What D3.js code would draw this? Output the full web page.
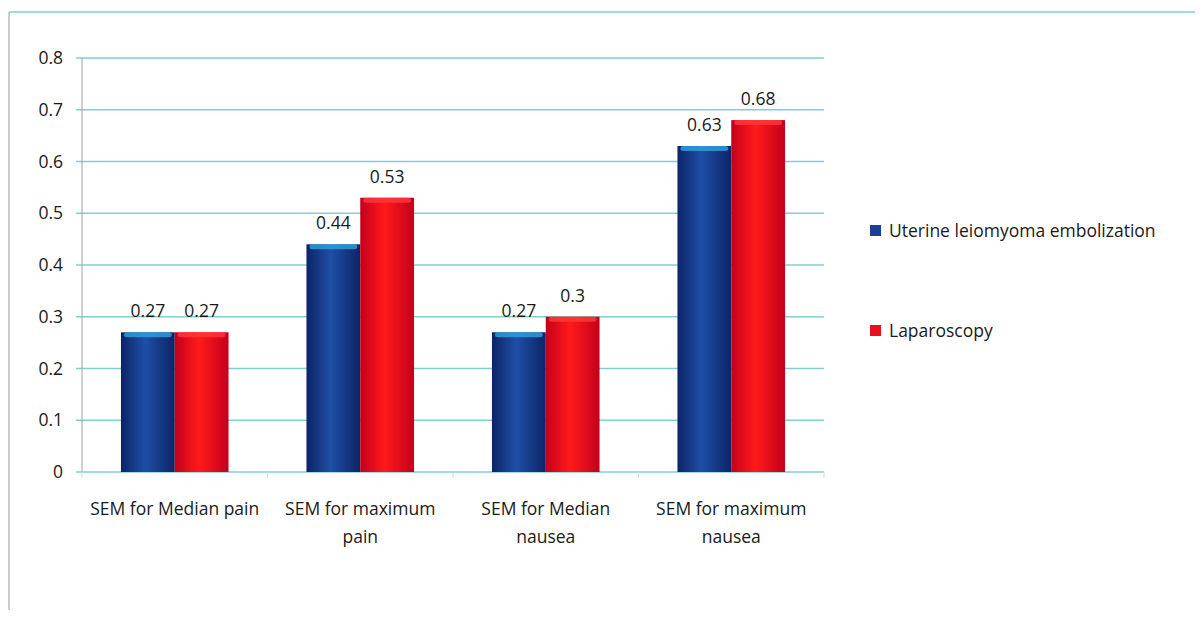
<!DOCTYPE html>
<html><head><meta charset="utf-8">
<script src="https://cdn.jsdelivr.net/npm/d3@7"></script>
<style>body{margin:0;background:#fff;}svg{display:block;font-family:"Open Sans","Liberation Sans",sans-serif;}</style>
</head><body>
<svg id="c" width="1202" height="622"></svg>
<script>
const categories = [["SEM for Median pain"],["SEM for maximum","pain"],["SEM for Median","nausea"],["SEM for maximum","nausea"]];
const seriesNames = ["Uterine leiomyoma embolization","Laparoscopy"];
const embolization = [0.27,0.44,0.27,0.63];
const laparoscopy = [0.27,0.53,0.3,0.68];
const yTicks = [0,0.1,0.2,0.3,0.4,0.5,0.6,0.7,0.8];

const svg = d3.select("#c");
const defs = svg.append("defs");
function grad(id, edge, mid){
  const g = defs.append("linearGradient").attr("id",id).attr("x1","0").attr("x2","1").attr("y1","0").attr("y2","0");
  g.append("stop").attr("offset","0%").attr("stop-color",edge);
  g.append("stop").attr("offset","45%").attr("stop-color",mid);
  g.append("stop").attr("offset","100%").attr("stop-color",edge);
}
grad("gb","#0c2466","#1f4fa6");
grad("gr","#c4001c","#ff1a1a");
const fills=["url(#gb)","url(#gr)"], caps=["#2fa3dc","#ff3a3a"], legendCol=["#1a3f93","#e8101e"];

// outer frame
svg.append("line").attr("x1",9).attr("x2",1195).attr("y1",12).attr("y2",12).attr("stroke","#7fd0d0").attr("stroke-width",1.5);
svg.append("line").attr("x1",9).attr("x2",9).attr("y1",12).attr("y2",610).attr("stroke","#9a9a9a").attr("stroke-width",1);

const x0 = 82, x1 = 824, yTop = 58, yBot = 472;
const y = d3.scaleLinear().domain([0,0.8]).range([yBot,yTop]);
const xb = d3.scaleBand().domain(d3.range(categories.length)).range([x0,x1]).paddingInner(0.42).paddingOuter(0.21);
const xs = d3.scaleBand().domain([0,1]).range([0,xb.bandwidth()]);
const xBound = d3.scaleLinear().domain([0,categories.length]).range([x0,x1]);

// gridlines
svg.append("g").selectAll("line").data(yTicks.slice(1)).join("line")
  .attr("x1",x0-6).attr("x2",x1).attr("y1",d=>y(d)).attr("y2",d=>y(d))
  .attr("stroke","#7fd0d0").attr("stroke-width",1.3);
// y axis
svg.append("line").attr("x1",x0).attr("x2",x0).attr("y1",yTop).attr("y2",yBot).attr("stroke","#a0a0a0");
svg.append("g").selectAll("text").data(yTicks).join("text")
  .attr("x",63).attr("y",d=>y(d)+6).attr("text-anchor","end").attr("font-size",17.5).attr("fill","#1a1a1a")
  .text(d=>d3.format("")(d));
// x axis
svg.append("line").attr("x1",x0-6).attr("x2",x1).attr("y1",yBot).attr("y2",yBot).attr("stroke","#7fd0d0").attr("stroke-width",1.5);
svg.append("g").selectAll("line").data(d3.range(categories.length+1)).join("line")
  .attr("x1",d=>xBound(d)).attr("x2",d=>xBound(d)).attr("y1",yBot).attr("y2",yBot+6).attr("stroke","#c8e0e0");

const series=[embolization,laparoscopy];
series.forEach((vals,si)=>{
  const g=svg.append("g");
  vals.forEach((v,ci)=>{
    const bx=xb(ci)+xs(si), bw=xs.bandwidth();
    g.append("rect").attr("x",bx).attr("y",y(v)).attr("width",bw).attr("height",yBot-y(v)).attr("fill",fills[si]);
    g.append("rect").attr("x",bx+3).attr("y",y(v)).attr("width",bw-6).attr("height",5).attr("rx",3).attr("fill",caps[si]).attr("opacity",0.8);
    g.append("text").attr("x",bx+bw/2).attr("y",y(v)-15).attr("text-anchor","middle").attr("font-size",17.5).attr("fill","#1a1a1a").text(v);
  });
});

// category labels
categories.forEach((lines,ci)=>{
  const t=svg.append("text").attr("text-anchor","middle").attr("font-size",17.5).attr("fill","#1a1a1a");
  lines.forEach((l,i)=>t.append("tspan").attr("x",xb(ci)+xb.bandwidth()/2).attr("y",515+i*28).text(l));
});

// legend
seriesNames.forEach((n,i)=>{
  const ly=231+i*100;
  svg.append("rect").attr("x",870).attr("y",ly-6).attr("width",11).attr("height",11).attr("fill",legendCol[i]);
  svg.append("text").attr("x",889).attr("y",ly+6).attr("font-size",17.5).attr("fill","#1a1a1a").text(n);
});
</script>
</body></html>
